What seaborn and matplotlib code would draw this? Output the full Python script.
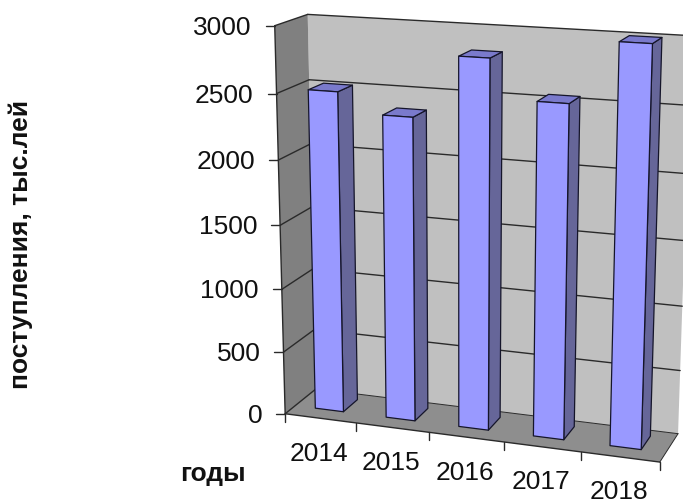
import numpy as np
import matplotlib
matplotlib.use("Agg")
import matplotlib.pyplot as plt
import seaborn as sns
from matplotlib.patches import Polygon

years = ["2014", "2015", "2016", "2017", "2018"]
values = [2505, 2355, 2825, 2535, 2995]
y_ticks = [0, 500, 1000, 1500, 2000, 2500, 3000]
x_title = "годы"
y_title = "поступления, тыс.лей"

# box corners on the page: (category pos, value share, depth) -> pixel
box_3d = [(0, 0, 0), (0, 1, 0), (5, 0, 0), (5, 1, 0), (0, 0, 1), (0, 1, 1), (5, 0, 1), (5, 1, 1)]
box_px = [(286, 412.7), (273.5, 25), (660, 462.7), (672.6, 50),
          (315, 390), (309, 15), (678, 433), (691, 34.5)]

rows, rhs = [], []
for (u, v, w), (px, py) in zip(box_3d, box_px):
    rows.append([u, v, w, 1, 0, 0, 0, 0, -u * px, -v * px, -w * px])
    rows.append([0, 0, 0, 0, u, v, w, 1, -u * py, -v * py, -w * py])
    rhs += [px, py]
p = np.linalg.lstsq(np.array(rows, float), np.array(rhs, float), rcond=None)[0]
P = np.append(p, 1).reshape(3, 4)


def proj(u, val, w):
    x, y, s = P @ np.array([u, val / 3000, w, 1])
    return x / s, y / s


sns.set_style("white")
plt.rcParams["font.family"] = ["Liberation Sans", "DejaVu Sans"]
fig, ax = plt.subplots(figsize=(6.83, 5.03), dpi=100)

sns.barplot(x=years, y=values, width=0.4, ax=ax)
bars = [(b.get_x() + 0.5, b.get_width(), b.get_height()) for b in ax.patches]
for b in list(ax.patches):
    b.remove()

ax.set_position([0, 0, 1, 1])
ax.set_xlim(0, 683)
ax.set_ylim(503, 0)
ax.axis("off")


def face(pts, color, z, ec="none", lw=0):
    ax.add_patch(Polygon(pts, closed=True, fc=color, ec=ec, lw=lw, zorder=z, joinstyle="round"))


def line(a, b, z=2, lw=1.0, color="#2a2a2a"):
    ax.plot([a[0], b[0]], [a[1], b[1]], color=color, lw=lw, zorder=z, solid_capstyle="round")


# walls and floor
face([proj(0, 0, 1), proj(0, 3000, 1), proj(5, 3000, 1), proj(5, 0, 1)], "#c0c0c0", 1)
face([proj(0, 0, 0), proj(0, 3000, 0), proj(0, 3000, 1), proj(0, 0, 1)], "#808080", 1)
face([proj(0, 0, 0), proj(5, 0, 0), proj(5, 0, 1), proj(0, 0, 1)], "#8e8e8e", 1)

# gridlines, ticks
for t in y_ticks:
    line(proj(0, t, 0), proj(0, t, 1))
    if t > 0:
        line(proj(0, t, 1), proj(5, t, 1))
    fx, fy = proj(0, t, 0)
    line((fx - 9, fy), (fx, fy))
    ax.text(fx - 23, fy + 2, str(t), ha="right", va="center", fontsize=19, color="#111111")
line(proj(0, 0, 0), proj(0, 3000, 0))
line(proj(0, 0, 0), proj(5, 0, 0))
line(proj(5, 0, 0), proj(5, 0, 1), lw=0.7)
line(proj(0, 0, 1), proj(5, 0, 1), lw=0.7)

for i in range(6):
    fx, fy = proj(i, 0, 0)
    line((fx, fy), (fx, fy + 8))
for i, yr in enumerate(years):
    fx, fy = proj(i + 0.5, 0, 0)
    ax.text(fx - 1, fy + 42.5, yr, ha="center", va="baseline", fontsize=19, color="#111111")

# bars
w0, w1 = 0.32, 0.8
for n, (left, wid, h) in enumerate(bars):
    left -= 0.012
    right = left + wid
    z = 3 + n
    face([proj(right, 0, w0), proj(right, h, w0), proj(right, h, w1), proj(right, 0, w1)],
         "#666699", z, "#15152a", 0.9)
    face([proj(left, h, w0), proj(right, h, w0), proj(right, h, w1), proj(left, h, w1)],
         "#7a7acc", z, "#15152a", 0.9)
    face([proj(left, 0, w0), proj(right, 0, w0), proj(right, h, w0), proj(left, h, w0)],
         "#9999ff", z + 0.5, "#15152a", 0.9)

ax.text(21, 244, y_title, rotation=90, ha="center", va="center", fontsize=19, fontweight="bold", color="#111111")
ax.text(213, 474, x_title, ha="center", va="center", fontsize=19, fontweight="bold", color="#111111")

fig.savefig("out.png", dpi=100)
